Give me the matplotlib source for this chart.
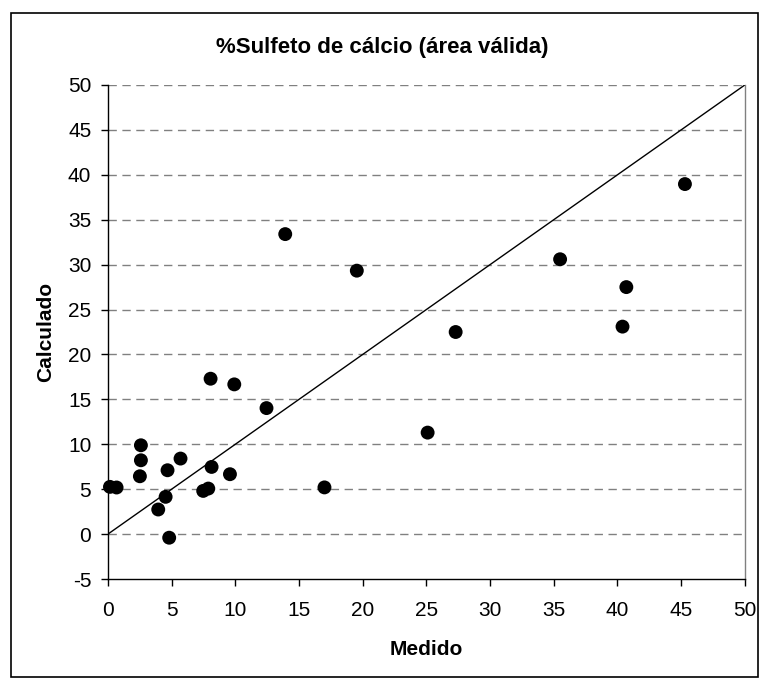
import matplotlib
matplotlib.use("Agg")
import matplotlib.pyplot as plt
from matplotlib.patches import Rectangle

plt.rcParams['font.family'] = ['Liberation Sans', 'DejaVu Sans']
plt.rcParams['axes.unicode_minus'] = False

medido = [8.06, 9.92, 12.45, 2.59, 2.59, 2.51, 5.70, 4.68, 8.14, 9.58, 7.88, 7.48,
          0.16, 0.68, 4.53, 3.95, 4.81, 13.92, 19.54, 27.3, 25.1, 17.0, 45.3, 35.5,
          40.7, 40.4]
calculado = [17.3, 16.67, 14.03, 9.89, 8.22, 6.44, 8.41, 7.11, 7.48, 6.67, 5.07, 4.81,
             5.26, 5.19, 4.15, 2.74, -0.4, 33.4, 29.33, 22.5, 11.3, 5.2, 38.97, 30.6,
             27.5, 23.1]
line_x = [0, 50]
line_y = [0, 50]
xticks = list(range(0, 51, 5))
yticks = list(range(-5, 51, 5))

fig = plt.figure(figsize=(7.6, 6.8), dpi=100)
ax = fig.add_axes([0.142, 0.1485, 0.838, 0.7265])

for yv in yticks[1:]:
    ax.axhline(yv, color='#808080', lw=1, ls=(0, (6, 4)), zorder=1)

ax.plot(line_x, line_y, color='black', lw=1, zorder=2)
ax.scatter(medido, calculado, s=100, color='black', zorder=3, edgecolors='none', clip_on=False)

ax.set_xlim(0, 50)
ax.set_ylim(-5, 50)
ax.set_xticks(xticks)
ax.set_yticks(yticks)
ax.set_xticklabels([str(v) for v in xticks])
ax.set_yticklabels([str(v) for v in yticks])
ax.tick_params(axis='both', labelsize=15, direction='out', length=5, width=1)
ax.tick_params(axis='x', pad=10.5)
ax.tick_params(axis='y', pad=7)
ax.spines['top'].set_visible(False)
ax.spines['right'].set_color('#808080')
ax.spines['left'].set_color('black')
ax.spines['bottom'].set_color('black')
for s in ax.spines.values():
    s.set_linewidth(1)

fig.text(0.503, 1 - 48 / 680, '%Sulfeto de cálcio (área válida)', fontsize=16,
         fontweight='bold', ha='center', va='center')
ax.set_xlabel('Medido', fontsize=15, fontweight='bold', labelpad=15)
ax.set_ylabel('Calculado', fontsize=15, fontweight='bold', labelpad=9)

fig.patches.append(Rectangle((0.014, 0.004), 0.983, 0.977, transform=fig.transFigure,
                             fill=False, edgecolor='black', lw=1.2))

fig.savefig('out.png', dpi=100)
